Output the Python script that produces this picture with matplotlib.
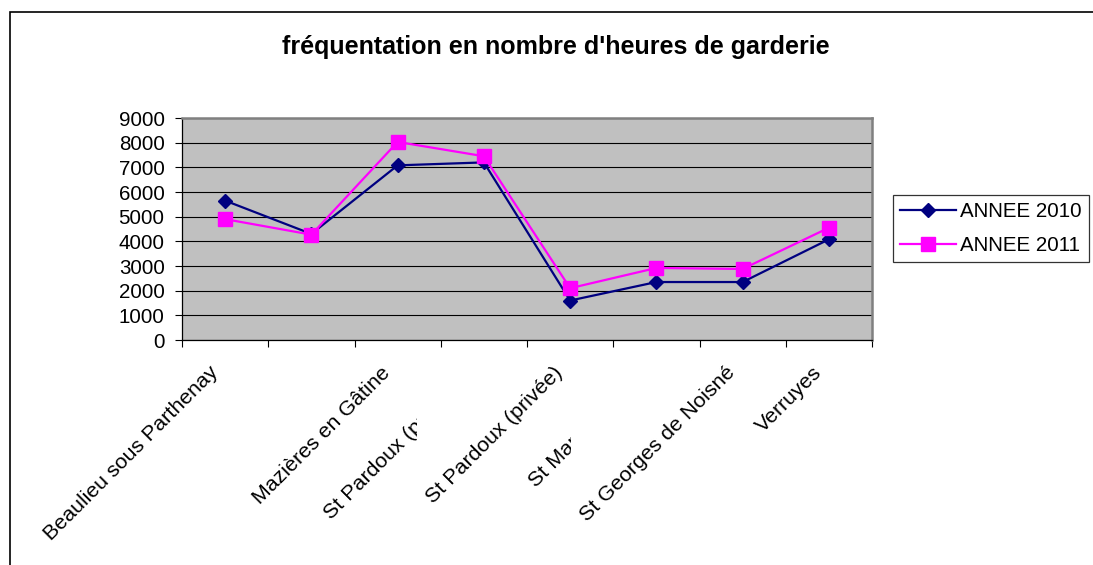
import matplotlib
matplotlib.use("Agg")
import matplotlib.pyplot as plt
from matplotlib.patches import Rectangle
from matplotlib.transforms import Bbox, ScaledTranslation
import numpy as np

plt.rcParams['font.family'] = ['Liberation Sans', 'DejaVu Sans']

categories = ["Beaulieu sous Parthenay", "Clavé", "Mazières en Gâtine",
              "St Pardoux (publique)", "St Pardoux (privée)", "St Marc la Lande",
              "St Georges de Noisné", "Verruyes"]
annee_2010 = [5650, 4300, 7080, 7200, 1600, 2350, 2350, 4080]
annee_2011 = [4900, 4270, 8030, 7450, 2100, 2920, 2880, 4550]
series_names = ["ANNEE 2010", "ANNEE 2011"]
y_ticks = [0, 1000, 2000, 3000, 4000, 5000, 6000, 7000, 8000, 9000]
title = "fréquentation en nombre d'heures de garderie"

W, H = 1093, 565
fig = plt.figure(figsize=(W / 100, H / 100), dpi=100)
fig.patch.set_facecolor('white')

# chart border (only left and top visible in the screenshot)
fig.patches.append(Rectangle((10 / W, -0.2), 2.0, 1.2 - 12 / H, transform=fig.transFigure,
                             fill=False, edgecolor='black', linewidth=1.2))

ax = fig.add_axes([182 / W, 1 - 340 / H, (872 - 182) / W, (340 - 118) / H])
ax.set_facecolor('#C0C0C0')

x = np.arange(len(categories))
ax.plot(x, annee_2010, color='#000080', linewidth=1.6, marker='D', markersize=7,
        label=series_names[0], zorder=3)
ax.plot(x, annee_2011, color='#FF00FF', linewidth=1.6, marker='s', markersize=10,
        label=series_names[1], zorder=4)

ax.set_xlim(-0.5, len(categories) - 0.5)
ax.set_ylim(0, 9000)
ax.set_yticks(y_ticks)
ax.yaxis.grid(True, color='black', linewidth=0.8)
ax.set_axisbelow(True)
ax.tick_params(axis='y', length=5, width=0.8, pad=7.5, labelsize=14.8, direction='out')

ax.set_xticks(x)
ax.set_xticklabels(categories, rotation=45, ha='right', va='top',
                   rotation_mode='anchor', fontsize=15.4)
ax.set_xticks(np.arange(-0.5, len(categories)), minor=True)
ax.tick_params(axis='x', which='major', length=0, pad=16.5)
ax.tick_params(axis='x', which='minor', length=5, width=0.8, direction='out')

for side in ['top', 'right']:
    ax.spines[side].set_color('#808080')
    ax.spines[side].set_linewidth(1.8)
for side in ['left', 'bottom']:
    ax.spines[side].set_color('black')
    ax.spines[side].set_linewidth(0.9)

fig.text(556 / W, 1 - 47 / H, title, ha='center', va='center', fontsize=18,
         fontweight='bold')

leg = fig.legend(loc='center left', bbox_to_anchor=(893 / W, 1 - 228.5 / H),
                 frameon=True, fancybox=False, shadow=False, fontsize=14.8,
                 handlelength=2.7, handletextpad=0.2, borderpad=0.35,
                 labelspacing=0.74, borderaxespad=0)
leg.get_frame().set_edgecolor('black')
leg.get_frame().set_linewidth(0.9)

# nudge the rotated labels to the left
shift = ScaledTranslation(-17 / 100, 0, fig.dpi_scale_trans)
for lab in ax.get_xticklabels():
    lab.set_transform(lab.get_transform() + shift)

# labels that overlap the next one are cut near its left edge, like in the original
fig.canvas.draw()
labels = ax.get_xticklabels()
renderer = fig.canvas.get_renderer()
for i in range(1, len(labels) - 1, 2):
    nxt = labels[i + 1].get_window_extent(renderer)
    labels[i].set_clip_box(Bbox([[0, 0], [nxt.x0 - 6, H]]))
    labels[i].set_clip_on(True)

fig.savefig("out.png", dpi=100)
